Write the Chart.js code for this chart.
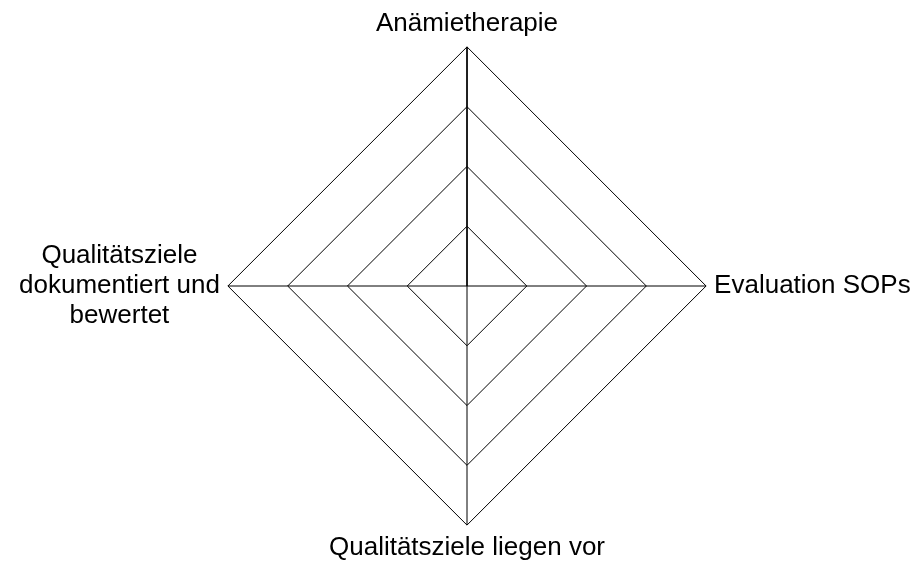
<!DOCTYPE html>
<html>
<head>
<meta charset="utf-8">
<script src="https://cdn.jsdelivr.net/npm/chart.js@4.4.1/dist/chart.umd.min.js"></script>
<style>
  html, body { margin: 0; padding: 0; background: #fff; }
  #wrap { width: 922px; height: 572px; }
</style>
</head>
<body>
<div id="wrap"><canvas id="radarChart"></canvas></div>
<script>
var categories = [
    'Anämietherapie',
    'Evaluation SOPs',
    'Qualitätsziele liegen vor',
    ['Qualitätsziele', 'dokumentiert und', 'bewertet']
];
var values = [4, 0, 0, 0];
var scaleMin = 0;
var scaleMax = 4;

// center multi-line point labels like the original instead of right-aligning them
var centerLabels = {
    id: 'centerLabels',
    beforeDraw: function (chart) {
        var items = chart.scales.r._pointLabelItems || [];
        items.forEach(function (item) {
            item.textAlign = 'center';
            item.x = (item.left + item.right) / 2;
        });
    }
};

var ctx = document.getElementById('radarChart').getContext('2d');
var myRadarChart = new Chart(ctx, {
    type: 'radar',
    data: {
        labels: categories,
        datasets: [{
            data: values,
            fill: false,
            borderColor: '#000',
            borderWidth: 1,
            pointRadius: 0
        }]
    },
    options: {
        responsive: true,
        maintainAspectRatio: false,
        animation: false,
        layout: {
            padding: { left: 15, right: 6, top: 9, bottom: 9 }
        },
        plugins: {
            legend: { display: false },
            tooltip: { enabled: false }
        },
        scales: {
            r: {
                min: scaleMin,
                max: scaleMax,
                ticks: { display: false, stepSize: 1 },
                grid: { color: '#000', lineWidth: 1 },
                angleLines: { color: '#000', lineWidth: 1 },
                pointLabels: {
                    color: '#000',
                    padding: 8,
                    font: { family: 'Liberation Sans, Arial, sans-serif', size: 26, lineHeight: 1.15 }
                }
            }
        }
    },
    plugins: [centerLabels]
});
</script>
</body>
</html>
